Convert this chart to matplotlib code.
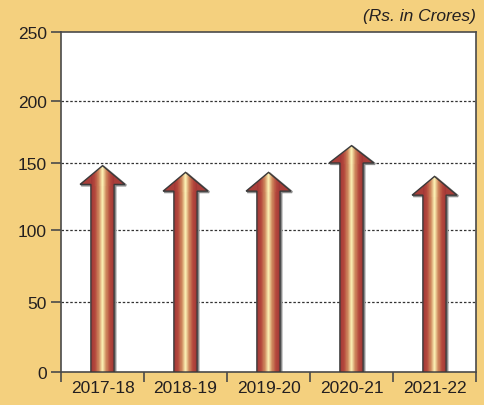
import numpy as np
import matplotlib
matplotlib.use("Agg")
import matplotlib.pyplot as plt
from matplotlib.colors import LinearSegmentedColormap
from matplotlib.patches import Polygon
import matplotlib.transforms as mtrans

categories = ["2017-18", "2018-19", "2019-20", "2020-21", "2021-22"]
values = [148, 143, 143, 164, 140]
yticks = [0, 50, 100, 150, 200, 250]
# irregular printed spacing of the y axis (relative positions of the ticks)
tick_pos = [0, 70, 142, 209, 271, 340]

plt.rcParams['font.family'] = ['Liberation Sans', 'DejaVu Sans']
bg = '#F4D07E'
txt = '#231F20'

fig = plt.figure(figsize=(4.85, 4.06), dpi=100, facecolor=bg)
ax = fig.add_axes([61/485, 33/406, 415/485, 340/406])
ax.set_facecolor('white')

data_pts = np.array(yticks, float)
pix_pts = np.array(tick_pos, float) * 250 / 340
def fwd(x):
    return np.interp(x, data_pts, pix_pts)
def inv(y):
    return np.interp(y, pix_pts, data_pts)
ax.set_yscale('function', functions=(fwd, inv))
ax.set_ylim(0, 250)
ax.set_xlim(-0.5, len(categories) - 0.5)

cmap = LinearSegmentedColormap.from_list('arr', [
    (0.0, '#A03636'), (0.17, '#B4483C'), (0.34, '#CF8A5E'),
    (0.5, '#FCF1B4'), (0.66, '#CF8A5E'), (0.83, '#B4483C'), (1.0, '#A03636')])
N = 64

sw, hw, hl = 0.14, 0.27, 14
for i, v in enumerate(values):
    pts = [(i-sw, 0), (i-sw, v-hl), (i-hw, v-hl), (i, v), (i+hw, v-hl),
           (i+sw, v-hl), (i+sw, 0)]
    shadow = Polygon(pts, closed=True, facecolor='none', edgecolor='#8c8c8c',
                     lw=1.6, zorder=2,
                     transform=ax.transData + mtrans.ScaledTranslation(1.2/100, -1.0/100, fig.dpi_scale_trans))
    ax.add_patch(shadow)
    poly = Polygon(pts, closed=True, facecolor='none', edgecolor='#3a3a3a', lw=1.0, zorder=4)
    ax.add_patch(poly)
    xs = np.linspace(i-sw, i+sw, N+1)
    c1 = np.linspace(0, 1, N).reshape(1, -1)
    m1 = ax.pcolormesh(xs, [0, v-hl], c1, cmap=cmap,
                       vmin=0, vmax=1, shading='flat', zorder=3, edgecolors='none',
                       antialiased=False)
    m1.set_clip_path(poly)
    xh = np.linspace(i-hw, i+hw, 2*N+1)
    mid = 0.5*(xh[:-1] + xh[1:])
    c2 = np.clip((mid - (i - sw)) / (2*sw), 0, 1)
    c2 = np.where((c2 <= 0) | (c2 >= 1), 0.08, c2).reshape(1, -1)
    m2 = ax.pcolormesh(xh, [v-hl-1, v], c2, cmap=cmap,
                       vmin=0, vmax=1, shading='flat', zorder=3, edgecolors='none',
                       antialiased=False)
    m2.set_clip_path(poly)

ax.set_xlim(-0.5, len(categories) - 0.5)
ax.set_ylim(0, 250)

for y in yticks[1:-1]:
    ax.axhline(y, color='#333333', lw=0.9, ls=(0, (2, 1.5)), zorder=1)

ax.set_yticks(yticks)
ax.set_yticklabels([str(t) for t in yticks])
ax.set_xticks(range(len(categories)))
ax.set_xticklabels(categories)
ax.set_xticks(np.arange(-0.5, len(categories)), minor=True)
ax.tick_params(axis='x', which='major', length=0, pad=6, labelsize=12.5, labelcolor=txt)
ax.tick_params(axis='x', which='minor', length=7, width=1.2, color='#4a4a4a', direction='out')
ax.tick_params(axis='y', length=7, width=1.2, color='#4a4a4a', direction='out',
               labelsize=12.5, labelcolor=txt, pad=3)
ax.yaxis.set_minor_locator(matplotlib.ticker.NullLocator())
for s in ax.spines.values():
    s.set_color('#4a4a4a')
    s.set_linewidth(1.2)

fig.text(476/485, 1 - 16/406, '(Rs. in Crores)', ha='right', va='center',
         style='italic', fontsize=12.5, color=txt)

fig.savefig('out.png', dpi=100, facecolor=bg)
